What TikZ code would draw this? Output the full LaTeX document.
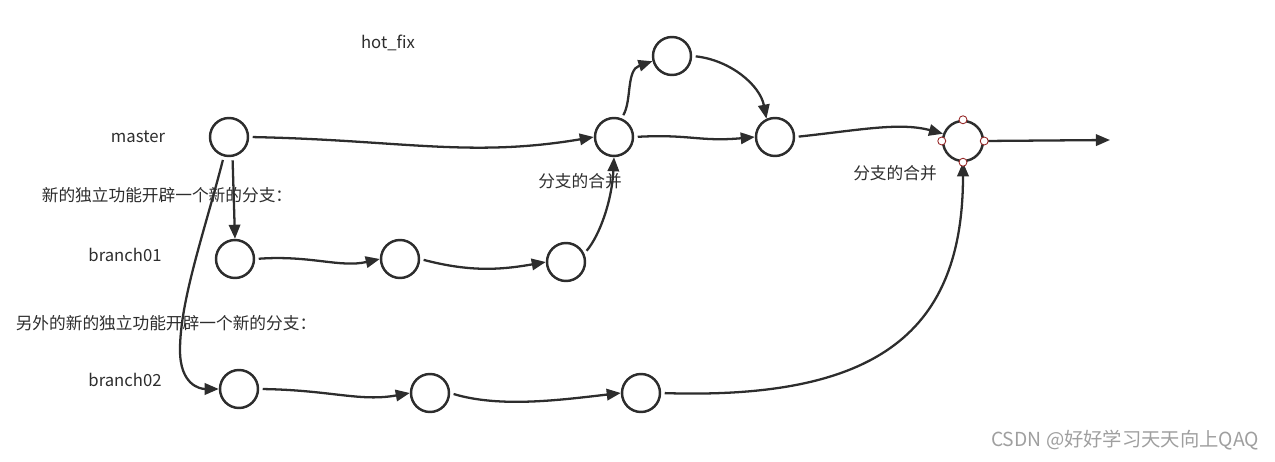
\documentclass[tikz,border=0pt]{standalone}
\usepackage{fontspec}
\setmainfont{Noto Sans CJK SC}
\usepackage{xcolor}
\definecolor{linegray}{RGB}{45, 45, 45}
\definecolor{textgray}{RGB}{45, 45, 45}
\definecolor{handlered}{RGB}{150, 40, 40}
\usetikzlibrary{arrows.meta, positioning}

\begin{document}
\begin{tikzpicture}[
    x=0.02cm, y=-0.02cm,
    every node/.style={font=\fontsize{9.5}{11}\selectfont, text=textgray},
    commit/.style={circle, draw=linegray, line width=1.4pt, fill=white,
                   minimum size=0.76cm, inner sep=0pt},
    handle/.style={circle, draw=handlered, fill=white, line width=0.5pt,
                   minimum size=0.16cm, inner sep=0pt},
    flow/.style={-{Triangle[length=8pt, width=6.5pt]}, line width=1.3pt,
                 draw=linegray, shorten <=2pt},
    watermark/.style={font=\fontsize{11}{13}\selectfont, text=gray!75}
]
    \useasboundingbox (0,0) rectangle (1275,462);

    % master line
    \node[commit] (m0) at (229,137) {};
    \node[commit] (m1) at (614,137) {};
    \node[commit] (hf) at (672,56) {};
    \node[commit] (m2) at (775,137) {};
    \node[commit, minimum size=0.8cm] (m3) at (963,141) {};
    \coordinate (mend) at (1110,140);

    % branch01
    \node[commit] (b1) at (235,259) {};
    \node[commit] (b2) at (400,259) {};
    \node[commit] (b3) at (566,262) {};

    % branch02
    \node[commit] (c1) at (239,389) {};
    \node[commit] (c2) at (430,393) {};
    \node[commit] (c3) at (641,393) {};

    % labels
    \node (lhot) at (388,43) {hot\_fix};
    \node (lmaster) at (138,137) {master};
    \node (lbranch1) at (125,255) {branch01};
    \node (lbranch2) at (125,380) {branch02};
    \node (lnew1) at (167,195) {新的独立功能开辟一个新的分支：};
    \node (lnew2) at (166,323) {另外的新的独立功能开辟一个新的分支：};
    \node (lmerge1) at (580,181) {分支的合并};
    \node (lmerge2) at (895,173) {分支的合并};
    \node[watermark] (lmark) at (1125,440) {CSDN @好好学习天天向上QAQ};

    % connectors
    \draw[flow] (m0.east) .. controls (400,140) and (470,158) .. (m1.west);
    \draw[flow] (m1.east) .. controls (690,134) and (700,142) .. (m2.west);
    \draw[flow] (m1.68) .. controls (632,100) and (626,70) .. (hf.195);
    \draw[flow] (hf.east) .. controls (730,60) and (760,85) .. (m2.115);
    \draw[flow] (m2.east) .. controls (860,130) and (900,122) .. (m3.160);
    \draw[flow] (m3.east) -- (mend);

    \draw[flow] (m0.-80) -- (b1.north);
    \draw[flow] (b1.east) .. controls (310,255) and (340,268) .. (b2.west);
    \draw[flow] (b2.east) .. controls (470,272) and (500,270) .. (b3.west);
    \draw[flow] (b3.25) .. controls (600,235) and (612,200) .. (m1.south);

    \draw[flow] (m0.255) .. controls (205,230) and (180,300) .. (180,350)
        .. controls (180,385) and (200,389) .. (c1.west);
    \draw[flow] (c1.east) .. controls (330,390) and (360,402) .. (c2.west);
    \draw[flow] (c2.east) .. controls (500,408) and (560,400) .. (c3.west);
    \draw[flow] (c3.east) .. controls (880,400) and (963,330) .. (m3.south);

    % selection handles
    \node[handle] (hn) at (m3.north) {};
    \node[handle] (hw) at (m3.west) {};
    \node[handle] (he) at (m3.east) {};
    \node[handle] (hs) at (m3.south) {};
\end{tikzpicture}
\end{document}
